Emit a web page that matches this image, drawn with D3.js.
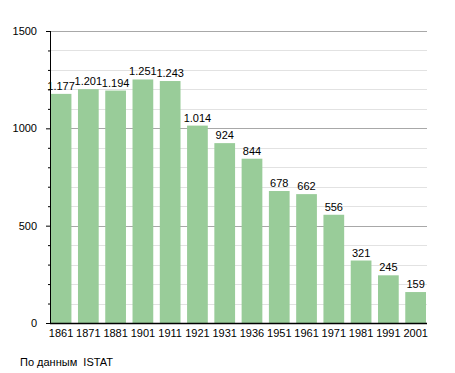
<!DOCTYPE html>
<html>
<head>
<meta charset="utf-8">
<script src="https://cdn.jsdelivr.net/npm/d3@7"></script>
<style>
  body { margin: 0; background: #fff; }
  svg { display: block; font-family: "Liberation Sans", Arial, sans-serif; }
</style>
</head>
<body>
<svg id="chart"></svg>
<script>
const years = ["1861", "1871", "1881", "1901", "1911", "1921", "1931", "1936", "1951", "1961", "1971", "1981", "1991", "2001"];
const population = [1177, 1201, 1194, 1251, 1243, 1014, 924, 844, 678, 662, 556, 321, 245, 159];
const yMajorTicks = [0, 500, 1000, 1500];
const sourceNote = "По данным  ISTAT";

const width = 455, height = 373;
const marginLeft = 50, marginRight = 28, marginTop = 31, marginBottom = 50;

const fmt = d3.formatLocale({decimal: ",", thousands: ".", grouping: [3], currency: ["", ""]}).format(",d");

const svg = d3.select("#chart")
    .attr("width", width)
    .attr("height", height)
    .attr("viewBox", [0, 0, width, height]);

const x = d3.scaleBand()
    .domain(years)
    .range([marginLeft + 0.7, width - marginRight - 1])
    .paddingInner(0.24)
    .paddingOuter(0);

const y = d3.scaleLinear()
    .domain([0, 1500])
    .range([height - marginBottom, marginTop]);

// gridlines: minor every 100, major every 500
svg.append("g")
  .selectAll("line")
  .data(d3.range(100, 1501, 100))
  .join("line")
    .attr("x1", marginLeft)
    .attr("x2", width - marginRight)
    .attr("y1", d => Math.round(y(d)) + 0.5)
    .attr("y2", d => Math.round(y(d)) + 0.5)
    .attr("stroke", d => d % 500 === 0 ? "#a8a8a8" : "#e2e2e2")
    .attr("stroke-width", 1);

// bars
svg.append("g")
    .attr("fill", "#99cc99")
  .selectAll("rect")
  .data(population)
  .join("rect")
    .attr("x", (d, i) => x(years[i]))
    .attr("y", d => y(d))
    .attr("width", x.bandwidth())
    .attr("height", d => y(0) - y(d));

// value labels
svg.append("g")
    .attr("font-size", 11)
    .attr("fill", "#000")
    .attr("text-anchor", "middle")
  .selectAll("text")
  .data(population)
  .join("text")
    .attr("x", (d, i) => x(years[i]) + x.bandwidth() / 2)
    .attr("y", d => y(d) - 4)
    .text(d => fmt(d));

// y axis
svg.append("g")
    .attr("transform", `translate(${marginLeft},0)`)
    .call(d3.axisLeft(y).tickValues(d3.range(0, 1501, 100)).tickSize(2).tickFormat(""))
    .call(g => g.select(".domain").attr("d", `M0.5,${y(1500)}V${y(0)}`).attr("stroke", "#000"))
    .call(g => g.selectAll(".tick line").attr("x1", 0.5).attr("x2", d => d % 500 === 0 ? -4 : -2));

svg.append("g")
    .attr("font-size", 11)
    .attr("text-anchor", "end")
  .selectAll("text")
  .data(yMajorTicks)
  .join("text")
    .attr("x", 37)
    .attr("y", d => y(d))
    .attr("dy", "0.35em")
    .text(d => d);

// x axis
svg.append("g")
    .attr("transform", `translate(0,${y(0)})`)
    .call(d3.axisBottom(x).tickSize(0).tickPadding(6))
    .call(g => g.select(".domain").attr("d", `M${marginLeft},0.5H${width - marginRight}`).attr("stroke", "#000").attr("stroke-width", 1.5))
    .call(g => g.selectAll("text").attr("font-size", 11).attr("font-family", "Liberation Sans, Arial, sans-serif").attr("fill", "#000"));

svg.append("text")
    .attr("x", 20)
    .attr("y", 366)
    .attr("font-size", 11)
    .style("white-space", "pre")
    .text(sourceNote);
</script>
</body>
</html>
